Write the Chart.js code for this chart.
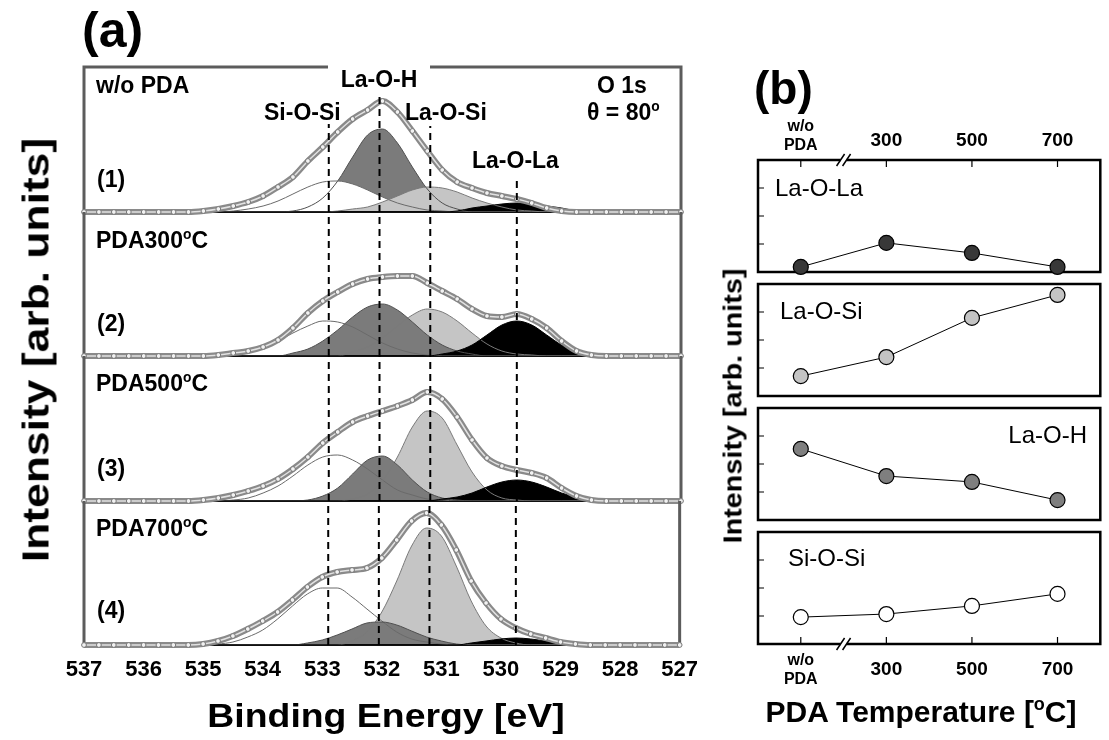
<!DOCTYPE html>
<html>
<head>
<meta charset="utf-8">
<script src="https://cdn.jsdelivr.net/npm/chart.js@4.4.1/dist/chart.umd.min.js"></script>
<style>
  body { margin: 0; background: #fff; }
  #page { position: relative; width: 1109px; height: 740px; overflow: hidden; font-family: "Liberation Sans", Arial, sans-serif; color: #000; }
  canvas { position: absolute; }
  .lbl { position: absolute; white-space: nowrap; line-height: 1; }
  sup { font-size: 60%; vertical-align: 0.65em; line-height: 0; }
</style>
</head>
<body>
<div id="page"></div>
<script>
// ---------- data ----------
// (a) O 1s spectra, binding energy in eV, intensity in arb. units
const rawEnergy = [537.00, 536.75, 536.50, 536.25, 536.00, 535.75, 535.50, 535.25, 535.00, 534.75,
  534.50, 534.25, 534.00, 533.75, 533.50, 533.25, 533.00, 532.75, 532.50, 532.25,
  532.00, 531.75, 531.50, 531.25, 531.00, 530.75, 530.50, 530.25, 530.00, 529.75,
  529.50, 529.25, 529.00, 528.75, 528.50, 528.25, 528.00, 527.75, 527.50, 527.25, 527.00];
const fitEnergy = [535.00, 534.75, 534.50, 534.25, 534.00, 533.75, 533.50, 533.25, 533.00, 532.75,
  532.50, 532.25, 532.00, 531.75, 531.50, 531.25, 531.00, 530.75, 530.50, 530.25,
  530.00, 529.75, 529.50, 529.25, 529.00, 528.75, 528.50, 528.25, 528.00];

// measured spectra
const raw1 = [0,0,0,0,0,0,0,0,1,3,6,10,16,25,35,51,65,80,93,102,111,100,81,61,42,30,24,19,16,13,9,4,1,0,0,0,0,0,0,0,0];
const raw2 = [0,0,0,0,0,0,0,0,0,1,3,5,9,16,28,43,55,64,72,77,79,80,80,73,65,57,47,40,39,42,37,28,15,5,1,0,0,0,0,0,0];
const raw3 = [0,0,0,0,0,0,0,0,1,3,6,10,15,22,32,44,58,69,79,85,90,95,101,109,102,84,61,43,35,31,28,23,13,5,1,0,0,0,0,0,0];
const raw4 = [0,0,0,0,0,0,0,0,1,4,9,16,24,33,45,58,68,73,75,77,87,105,124,132,120,95,64,42,26,17,11,7,3,1,0,0,0,0,0,0,0];

// fitted components
const siosi1 = [0,0,1,3,6,11,18,25,30,31,28,22,15,9,5,2,1,0,0,0,0,0,0,0,0,0,0,0,0];
const laoh1  = [0,0,0,0,0,0,1,5,14,31,55,77,83,69,45,23,9,3,0,0,0,0,0,0,0,0,0,0,0];
const laosi1 = [0,0,0,0,0,0,0,0,0,1,3,5,10,16,22,25,24,20,14,9,5,2,1,0,0,0,0,0,0];
const laola1 = [0,0,0,0,0,0,0,0,0,0,0,0,0,0,0,0,0,1,4,6,8,9,8,6,4,1,0,0,0];

const siosi2 = [0,0,2,4,8,15,23,30,35,34,29,21,13,7,3,1,0,0,0,0,0,0,0,0,0,0,0,0,0];
const laoh2  = [0,0,0,0,0,0,3,7,15,26,39,49,52,46,34,21,11,5,2,0,0,0,0,0,0,0,0,0,0];
const laosi2 = [0,0,0,0,0,0,0,0,0,0,4,9,18,30,41,47,44,35,23,12,5,2,1,0,0,0,0,0,0];
const laola2 = [0,0,0,0,0,0,0,0,0,0,0,0,0,0,0,0,2,5,11,21,31,35,31,21,11,5,2,0,0];

const siosi3 = [0,0,1,3,8,15,25,36,44,46,41,32,21,11,6,2,1,0,0,0,0,0,0,0,0,0,0,0,0];
const laoh3  = [0,0,0,0,0,0,0,1,5,13,27,41,45,36,21,9,3,1,0,0,0,0,0,0,0,0,0,0,0];
const laosi3 = [0,0,0,0,0,0,0,0,0,0,2,7,20,44,74,90,83,56,29,11,3,1,0,0,0,0,0,0,0];
const laola3 = [0,0,0,0,0,0,0,0,0,0,0,0,0,0,0,0,2,4,8,14,19,21,19,14,8,4,2,0,0];

const siosi4 = [0,1,3,8,15,26,39,51,57,57,48,36,24,13,6,3,1,0,0,0,0,0,0,0,0,0,0,0,0];
const laoh4  = [0,0,0,0,0,0,0,2,5,10,16,22,23,20,14,8,4,1,0,0,0,0,0,0,0,0,0,0,0];
const laosi4 = [0,0,0,0,0,0,0,0,0,0,4,13,33,64,99,117,109,79,44,19,7,2,0,0,0,0,0,0,0];
const laola4 = [0,0,0,0,0,0,0,0,0,0,0,0,0,0,0,0,0,0,2,4,6,7,6,4,2,1,0,0,0];

// component positions (Si-O-Si, La-O-H, La-O-Si, La-O-La) and dashed marker tops in spectrum (1)
const peakCenters = [532.9, 532.05, 531.2, 529.75];
const dashTop1 = [88, 120, 86, 33];

// (b) component intensity vs PDA temperature
const tempLabels = [['w/o', 'PDA'], '300', '500', '700'];
const laolaInt = [0.18, 1.04, 0.68, 0.18];
const laosiInt = [0.71, 1.39, 2.79, 3.61];
const laohInt  = [2.54, 1.57, 1.36, 0.71];
const siosiInt = [0.96, 1.07, 1.36, 1.79];
const yTickValues = [1, 2, 3];

// ---------- helpers ----------
const page = document.getElementById('page');
const FONT = '"Liberation Sans", Arial, sans-serif';
Chart.defaults.font.family = FONT;
Chart.defaults.color = '#000';

function makeCanvas(left, top, w, h) {
  const c = document.createElement('canvas');
  c.width = w; c.height = h;
  c.style.left = left + 'px'; c.style.top = top + 'px';
  c.style.width = w + 'px'; c.style.height = h + 'px';
  page.appendChild(c);
  return c;
}

function addText(html, x, baseline, size, o = {}) {
  const d = document.createElement('div');
  d.className = 'lbl';
  d.innerHTML = html;
  d.style.fontSize = size + 'px';
  d.style.fontWeight = o.bold === false ? 'normal' : 'bold';
  d.style.left = x + 'px';
  d.style.top = (baseline - 0.847 * size) + 'px';
  const sx = o.sx || 1;
  if (o.align === 'center') {
    d.style.transformOrigin = '50% 50%';
    d.style.transform = `translateX(-50%) scaleX(${sx})`;
  } else if (o.align === 'right') {
    d.style.transformOrigin = '100% 50%';
    d.style.transform = `translateX(-100%) scaleX(${sx})`;
  } else {
    d.style.transformOrigin = '0 50%';
    d.style.transform = `scaleX(${sx})`;
  }
  page.appendChild(d);
  return d;
}

function addVText(html, cx, cy, size, sx) {
  const d = document.createElement('div');
  d.className = 'lbl';
  d.innerHTML = html;
  d.style.fontSize = size + 'px';
  d.style.fontWeight = 'bold';
  d.style.left = cx + 'px';
  d.style.top = cy + 'px';
  d.style.transform = `translate(-50%,-50%) rotate(-90deg) scaleX(${sx})`;
  page.appendChild(d);
}

const pts = (xs, ys) => xs.map((x, i) => ({ x, y: ys[i] }));

// frame of one spectrum box in (a)
const spectrumFrame = {
  id: 'spectrumFrame',
  beforeDatasetsDraw(chart, args, opts) {
    const { ctx, chartArea: a } = chart;
    ctx.save();
    ctx.strokeStyle = '#5c5c5c';
    ctx.lineWidth = 3;
    ctx.beginPath();
    if (opts.top) { ctx.moveTo(a.left - 1.5, a.top); ctx.lineTo(a.right + 1.5, a.top); }
    ctx.moveTo(a.left, a.top); ctx.lineTo(a.left, a.bottom);
    ctx.moveTo(a.right, a.top); ctx.lineTo(a.right, a.bottom);
    ctx.stroke();
    ctx.strokeStyle = '#111';
    ctx.lineWidth = 2;
    ctx.beginPath();
    ctx.moveTo(a.left, a.bottom); ctx.lineTo(a.right, a.bottom);
    ctx.stroke();
    ctx.restore();
  }
};

// frame, inner ticks and axis break of one box in (b)
const tempFrame = {
  id: 'tempFrame',
  beforeDatasetsDraw(chart, args, opts) {
    const { ctx, chartArea: a, scales: { x, y } } = chart;
    ctx.save();
    ctx.strokeStyle = '#000';
    ctx.lineWidth = 2.5;
    ctx.strokeRect(a.left, a.top, a.right - a.left, a.bottom - a.top);
    ctx.lineWidth = 1.2;
    ctx.beginPath();
    yTickValues.forEach(v => {
      const py = y.getPixelForValue(v);
      ctx.moveTo(a.left, py); ctx.lineTo(a.left + 6, py);
    });
    if (opts.edge) {
      const ey = opts.edge === 'top' ? a.top : a.bottom;
      const dir = opts.edge === 'top' ? 1 : -1;
      tempLabels.forEach((l, i) => {
        const px = x.getPixelForValue(i);
        ctx.moveTo(px, ey); ctx.lineTo(px, ey + dir * 7);
      });
    }
    ctx.stroke();
    if (opts.edge) {
      const ey = opts.edge === 'top' ? a.top : a.bottom;
      const mid = (x.getPixelForValue(0) + x.getPixelForValue(1)) / 2;
      ctx.fillStyle = '#fff';
      ctx.fillRect(mid - 3, ey - 2, 6, 4);
      ctx.lineWidth = 1.5;
      ctx.beginPath();
      [-3, 3].forEach(d => {
        ctx.moveTo(mid + d - 4, ey + 6); ctx.lineTo(mid + d + 4, ey - 6);
      });
      ctx.stroke();
    }
    ctx.restore();
  }
};

// ---------- (a) spectra ----------
const boxTops = [67, 212, 356, 501, 645];
const spectra = [
  { raw: raw1, siosi: siosi1, laoh: laoh1, laosi: laosi1, laola: laola1 },
  { raw: raw2, siosi: siosi2, laoh: laoh2, laosi: laosi2, laola: laola2 },
  { raw: raw3, siosi: siosi3, laoh: laoh3, laosi: laosi3, laola: laola3 },
  { raw: raw4, siosi: siosi4, laoh: laoh4, laosi: laosi4, laola: laola4 }
];

spectra.forEach((s, k) => {
  const top = boxTops[k], bottom = boxTops[k + 1];
  const yMax = bottom - top;
  const last = k === 3;
  const cTop = top - 12;
  const cH = last ? 740 - cTop : yMax + 24;
  const canvas = makeCanvas(0, cTop, 710, cH);

  const comp = (label, ys, bg, border, order) => ({
    label, data: pts(fitEnergy, ys), backgroundColor: bg, borderColor: border,
    borderWidth: 1, fill: 'origin', pointRadius: 0, cubicInterpolationMode: 'monotone', order
  });
  // La-O-H lies under the other fills in (1), over them in (2)-(4)
  const laohOrder = k === 0 ? 6 : 4;
  const laosiOrder = k === 0 ? 4 : 5;
  const siosiOrder = k === 0 ? 5 : 6;

  const datasets = [
    comp('Si-O-Si', s.siosi, '#ffffff', '#6a6a6a', siosiOrder),
    comp('La-O-H', s.laoh, '#7b7b7b', '#505050', laohOrder),
    comp('La-O-Si', s.laosi, '#c5c5c5', '#7a7a7a', laosiOrder),
    comp('La-O-La', s.laola, '#000000', '#000000', 3),
    {
      label: 'data', data: pts(rawEnergy, s.raw), borderColor: '#8a8a8a', borderWidth: 6,
      pointRadius: 0, fill: false, cubicInterpolationMode: 'monotone', clip: false, order: 2
    },
    {
      label: 'data-core', data: pts(rawEnergy, s.raw), borderColor: '#e2e2e2', borderWidth: 1.5,
      pointRadius: 2.4, pointBackgroundColor: '#f2f2f2', pointBorderColor: '#777', pointBorderWidth: 1,
      fill: false, cubicInterpolationMode: 'monotone', clip: false, order: 1
    }
  ];
  peakCenters.forEach((c, i) => {
    datasets.push({
      label: 'peak', data: [{ x: c, y: 0 }, { x: c, y: k === 0 ? dashTop1[i] : yMax }],
      borderColor: '#000', borderWidth: 2, borderDash: [7, 5], pointRadius: 0, fill: false, order: 0
    });
  });

  new Chart(canvas, {
    type: 'line',
    data: { datasets },
    plugins: [spectrumFrame],
    options: {
      responsive: false,
      animation: false,
      events: [],
      devicePixelRatio: 1,
      layout: { padding: { left: 84, right: 29, top: 12, bottom: last ? 0 : 12 } },
      scales: {
        x: {
          type: 'linear', min: 527, max: 537, reverse: true,
          display: last,
          grid: { display: false, drawTicks: false },
          border: { display: false },
          ticks: {
            stepSize: 1, autoSkip: false, maxRotation: 0, padding: 12, color: '#000',
            font: { size: 22, weight: 'bold' }
          },
          afterFit: sc => { if (last) sc.height = 95; }
        },
        y: { min: 0, max: yMax, display: false }
      },
      plugins: {
        legend: { display: false },
        tooltip: { enabled: false },
        filler: { drawTime: 'beforeDatasetsDraw' },
        spectrumFrame: { top: k === 0 }
      }
    }
  });
});

// ---------- (b) intensity vs temperature ----------
const tempBoxes = [
  { values: laolaInt, color: '#383838', top: 160 },
  { values: laosiInt, color: '#c4c4c4', top: 284 },
  { values: laohInt,  color: '#7f7f7f', top: 408 },
  { values: siosiInt, color: '#ffffff', top: 532 }
];
const boxH = 112;

tempBoxes.forEach((b, k) => {
  const first = k === 0, last = k === tempBoxes.length - 1;
  let cTop, cH, padTop, padBottom;
  if (first) { cTop = b.top - 60; cH = 60 + boxH + 10; padTop = 0; padBottom = 10; }
  else if (last) { cTop = b.top - 10; cH = 10 + boxH + 56; padTop = 10; padBottom = 0; }
  else { cTop = b.top - 10; cH = boxH + 20; padTop = 10; padBottom = 10; }
  const canvas = makeCanvas(720, cTop, 389, cH);
  const bigLH = first ? 1.58 : 1.95;

  new Chart(canvas, {
    type: 'line',
    data: {
      labels: tempLabels,
      datasets: [{
        data: b.values, borderColor: '#000', borderWidth: 1, fill: false,
        pointRadius: 7.5, pointBackgroundColor: b.color, pointBorderColor: '#000',
        pointBorderWidth: 1.2, clip: false
      }]
    },
    plugins: [tempFrame],
    options: {
      responsive: false,
      animation: false,
      events: [],
      devicePixelRatio: 1,
      layout: { padding: { left: 38, right: 2, top: padTop, bottom: padBottom } },
      scales: {
        x: {
          type: 'category', offset: true,
          position: first ? 'top' : 'bottom',
          display: first || last,
          grid: { display: false, drawTicks: false },
          border: { display: false },
          ticks: {
            autoSkip: false, maxRotation: 0, color: '#000',
            padding: first ? 4.5 : 7.5,
            font: c => c.index === 0
              ? { size: 16, weight: 'bold', lineHeight: 19 / 16 }
              : { size: 19, weight: 'bold', lineHeight: bigLH }
          },
          afterFit: sc => { if (first || last) sc.height = first ? 60 : 56; }
        },
        y: { min: 0, max: 4, display: false }
      },
      plugins: {
        legend: { display: false },
        tooltip: { enabled: false },
        tempFrame: { edge: first ? 'top' : (last ? 'bottom' : null) }
      }
    }
  });
});

// ---------- text ----------
// (a)
addText('(a)', 82, 47, 50);
const gap = document.createElement('div');
gap.style.cssText = 'position:absolute;left:328px;top:62px;width:102px;height:9px;background:#fff;';
page.appendChild(gap);
addText('La-O-H', 379, 87, 23, { align: 'center' });
addText('w/o PDA', 96, 93, 23);
addText('O 1s', 597, 93, 23);
addText('&theta; = 80<sup>o</sup>', 587, 120, 23);
addText('Si-O-Si', 264, 120, 23);
addText('La-O-Si', 405, 120, 23);
addText('La-O-La', 472, 168, 23);
addText('(1)', 97, 187, 23);
addText('PDA300<sup>o</sup>C', 96, 248, 23);
addText('(2)', 97, 331, 23);
addText('PDA500<sup>o</sup>C', 96, 391, 23);
addText('(3)', 97, 476, 23);
addText('PDA700<sup>o</sup>C', 96, 536, 23);
addText('(4)', 97, 618, 23);
addText('Binding Energy [eV]', 386, 727, 34, { align: 'center', sx: 1.1 });
addVText('Intensity [arb. units]', 36, 350, 37, 1.2);

// (b)
addText('(b)', 754, 104, 46);
addText('La-O-La', 775, 196, 24, { bold: false });
addText('La-O-Si', 780, 319, 24, { bold: false });
addText('La-O-H', 1087, 443, 24, { bold: false, align: 'right' });
addText('Si-O-Si', 788, 566, 24, { bold: false });
addText('PDA Temperature [<sup>o</sup>C]', 921, 722, 30, { align: 'center' });
addVText('Intensity [arb. units]', 733, 406, 25, 1.15);
</script>
</body>
</html>
